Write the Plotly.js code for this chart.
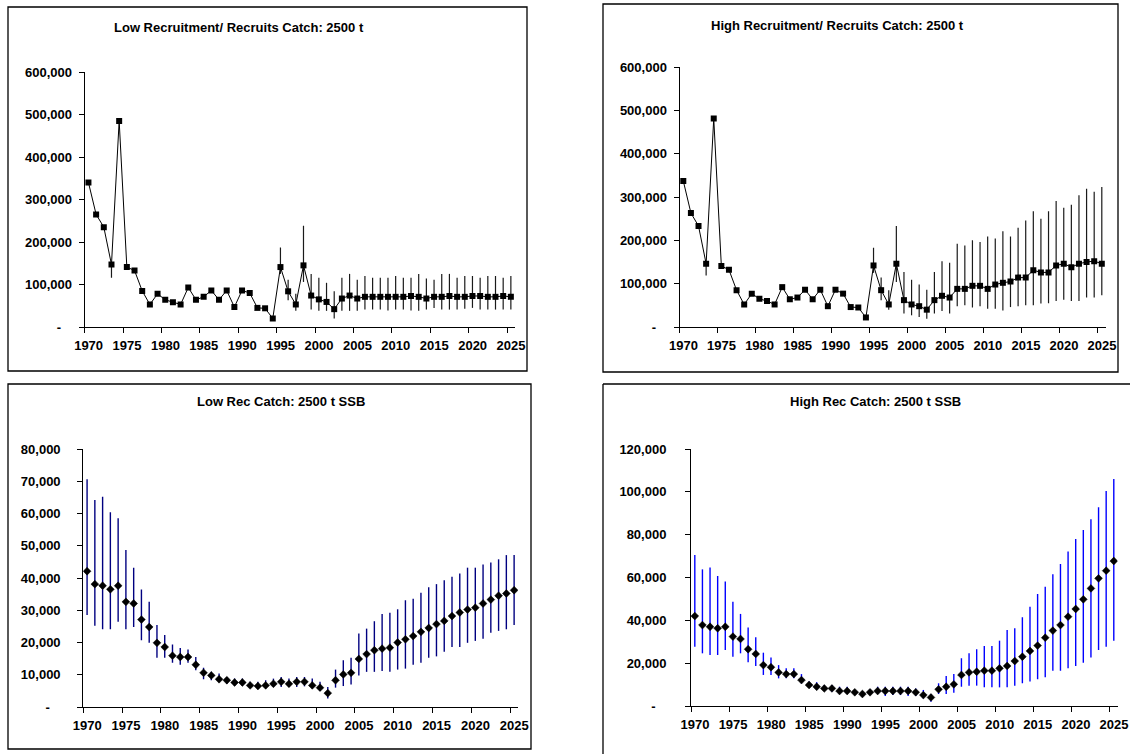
<!DOCTYPE html>
<html>
<head>
<meta charset="utf-8">
<script src="https://cdn.plot.ly/plotly-3.0.1.min.js"></script>
<style>html,body{margin:0;padding:0;background:#fff;}#chart{width:1130px;height:754px;}</style>
</head>
<body>
<div id="chart"></div>
<script>
// ---------------- DATA ----------------
const years = [1970,1971,1972,1973,1974,1975,1976,1977,1978,1979,1980,1981,1982,1983,1984,1985,1986,1987,1988,1989,1990,1991,1992,1993,1994,1995,1996,1997,1998,1999,2000,2001,2002,2003,2004,2005,2006,2007,2008,2009,2010,2011,2012,2013,2014,2015,2016,2017,2018,2019,2020,2021,2022,2023,2024,2025];

const xTickLabels = ['1970','1975','1980','1985','1990','1995','2000','2005','2010','2015','2020','2025'];

// Low recruitment - recruits
const recLow = [340000,265000,235000,147000,485000,141000,133000,85000,53000,78000,64000,58000,53000,93000,64000,71000,86000,64000,86000,47000,86000,80000,45000,44000,20000,
  141000,84000,53000,145000,74000,65000,59000,42000,67000,74000,67000,71000,71000,71000,71000,71000,71000,73000,71000,67000,71000,71000,73000,71000,71000,73000,73000,71000,71000,73000,71000];
const recLowHi = [null,null,null,147000,null,null,null,null,null,null,null,null,null,null,null,null,null,null,null,null,null,null,null,null,null,
  187000,111000,78000,238000,125000,116000,104000,84000,116000,125000,111000,120000,116000,116000,116000,120000,116000,116000,125000,114000,111000,125000,125000,116000,120000,120000,116000,120000,120000,116000,120000];
const recLowLo = [null,null,null,116000,null,null,null,null,null,null,null,null,null,null,null,null,null,null,null,null,null,null,null,null,null,
  125000,63000,38000,106000,41000,38000,38000,20000,38000,38000,38000,41000,41000,41000,39000,41000,41000,39000,38000,41000,45000,41000,41000,41000,43000,45000,41000,41000,41000,41000,41000];

// High recruitment - recruits
const recHigh = [337000,263000,233000,146000,481000,141000,132000,85000,52000,77000,65000,60000,52000,92000,64000,68000,86000,64000,86000,48000,86000,77000,46000,45000,22000,
  142000,85000,52000,146000,62000,52000,48000,40000,62000,72000,68000,88000,88000,95000,95000,88000,98000,102000,105000,114000,114000,131000,126000,126000,142000,146000,138000,146000,150000,152000,146000];
const recHighHi = [null,null,null,146000,null,null,null,null,null,null,null,null,null,null,null,null,null,null,null,null,null,null,null,null,null,
  183000,114000,85000,233000,127000,109000,98000,86000,127000,152000,148000,192000,188000,200000,196000,209000,204000,221000,209000,229000,246000,267000,250000,267000,291000,275000,282000,304000,319000,312000,323000];
const recHighLo = [null,null,null,119000,null,null,null,null,null,null,null,null,null,null,null,null,null,null,null,null,null,null,null,null,null,
  125000,62000,40000,104000,31000,27000,23000,19000,31000,37000,31000,48000,50000,45000,48000,42000,42000,38000,46000,48000,50000,50000,54000,55000,60000,63000,60000,60000,68000,68000,73000];

// Low rec SSB
const ssbLow = [42100,38100,37600,36500,37600,32600,32100,27100,24800,19900,18600,15900,15500,15500,13100,10600,9800,8600,8300,7600,7600,6700,6500,6700,7200,
  7800,7200,7800,7800,6700,6000,4300,8300,10100,10600,14900,16400,17600,18100,18400,20000,21000,22000,23300,24500,25700,26700,28200,29300,30200,30800,32100,33300,34500,35200,36200];
const ssbLowHi = [70600,64200,65200,60400,58500,48700,43200,36400,32600,25400,22300,19400,18300,17800,15500,12200,10900,10400,9300,8800,8800,7800,7800,8300,8800,
  9300,8800,9300,9300,8800,7800,6200,11600,14500,15300,22800,24300,26600,28800,29200,30300,33100,33600,35400,37100,38100,39300,40400,41400,43200,43200,44200,44800,45800,47100,47100];
const ssbLowLo = [28500,25200,24100,24100,26400,24100,24800,20700,19900,15300,15300,13700,13100,13700,11400,8600,8300,7800,7200,6500,6500,6200,5700,5700,6200,
  6200,6200,6200,6400,5700,5000,2600,6000,6500,7000,9800,10900,10900,11200,10900,11600,11900,13100,13700,15300,15700,17100,18600,18600,19900,20500,21200,23000,23600,24100,25400];

// High rec SSB
const ssbHigh = [42000,37800,37000,36300,37000,32400,31300,26500,24300,19100,18100,15700,14900,14900,12100,9800,9000,8200,8200,7000,7000,6400,5600,6400,7000,
  7000,7000,7000,7000,6400,5100,4000,7800,9000,10100,14500,15700,16000,16500,16500,17600,18700,21000,23000,25700,28200,31900,35200,37800,41700,45300,49800,54900,59600,63200,67700];
const ssbHighHi = [70500,63800,64700,60700,58100,48700,43000,36600,32100,24900,22600,19100,17600,17600,14900,11400,11100,9800,9800,9000,9000,7500,6700,7800,9000,
  9000,9000,9000,9000,8200,7500,5600,10600,14000,14900,22300,24600,26500,28000,28000,30500,35500,36300,41400,46400,52300,55700,61500,66300,72100,78000,82200,87200,92800,100400,106000];
const ssbHighLo = [27700,24600,23800,23800,26100,23000,24600,20400,18700,14500,14500,12900,12900,12900,10600,8700,7800,7200,6700,5600,5600,5100,4400,5100,5600,
  4700,5100,5100,4700,4700,3600,2000,5600,5600,6200,9000,9500,9500,8700,8700,8700,8700,9500,10600,11400,12500,13400,16500,16500,17600,18700,20200,22700,26100,27700,30500];

const yTickRec = [0,100000,200000,300000,400000,500000,600000];
const yTextRec = ['-\u00a0\u00a0\u00a0','100,000','200,000','300,000','400,000','500,000','600,000'];
const yTickSsbLow = [0,10000,20000,30000,40000,50000,60000,70000,80000];
const yTextSsbLow = ['-\u00a0\u00a0\u00a0','10,000','20,000','30,000','40,000','50,000','60,000','70,000','80,000'];
const yTickSsbHigh = [0,20000,40000,60000,80000,100000,120000];
const yTextSsbHigh = ['-\u00a0\u00a0\u00a0','20,000','40,000','60,000','80,000','100,000','120,000'];

const titles = ['Low Recruitment/ Recruits Catch: 2500 t','High Recruitment/ Recruits Catch: 2500 t','Low Rec Catch: 2500 t SSB','High Rec Catch: 2500 t SSB'];

// ---------------- BUILD ----------------
const W = 1130, H = 754;
const px = v => v / W;
const py = v => 1 - v / H;
const FONT = 'Arial, "Liberation Sans", sans-serif';

function errs(vals, hi, lo) {
  return {
    type: 'data', symmetric: false, visible: true,
    array: vals.map((v, i) => hi[i] == null ? NaN : hi[i] - v),
    arrayminus: vals.map((v, i) => lo[i] == null ? NaN : v - lo[i])
  };
}

const traces = [];
function recTrace(vals, hi, lo, xa, ya) {
  const e = errs(vals, hi, lo);
  e.width = 0; e.thickness = 1.2; e.color = '#1a1a1a';
  return {
    type: 'scatter', mode: 'lines+markers', x: years, y: vals, xaxis: xa, yaxis: ya,
    line: {color: '#000', width: 1},
    marker: {symbol: 'square', size: 6, color: '#000'},
    error_y: e, hoverinfo: 'x+y'
  };
}
function ssbTrace(vals, hi, lo, xa, ya, col) {
  const e = errs(vals, hi, lo);
  e.width = 0; e.thickness = 1.4; e.color = col;
  return {
    type: 'scatter', mode: 'markers', x: years, y: vals, xaxis: xa, yaxis: ya,
    marker: {symbol: 'diamond', size: 6, color: '#000', line: {color: '#000', width: 0.5}},
    error_y: e, hoverinfo: 'x+y'
  };
}
traces.push(recTrace(recLow, recLowHi, recLowLo, 'x', 'y'));
traces.push(recTrace(recHigh, recHighHi, recHighLo, 'x2', 'y2'));
traces.push(ssbTrace(ssbLow, ssbLowHi, ssbLowLo, 'x3', 'y3', '#000080'));
traces.push(ssbTrace(ssbHigh, ssbHighHi, ssbHighLo, 'x4', 'y4', '#0000ff'));

const tickFont = {family: FONT, size: 13, weight: 'bold', color: '#000'};

function xAxis(x0, x1, anchor) {
  return {
    domain: [px(x0), px(x1)], anchor: anchor,
    range: [1969.5, 2025.5], autorange: false,
    tickmode: 'array',
    tickvals: xTickLabels.map(l => Number(l) - 0.5),
    ticktext: xTickLabels,
    ticklabelshift: 4,
    ticks: 'outside', ticklen: 5, tickwidth: 1, tickcolor: '#000',
    ticklabelstandoff: 1,
    showline: true, linecolor: '#000', linewidth: 1,
    showgrid: false, zeroline: false, tickfont: tickFont, fixedrange: true
  };
}
function yAxis(y0, y1, anchor, tv, tt, standoff) {
  return {
    domain: [py(y0), py(y1)], anchor: anchor,
    range: [0, tv[tv.length - 1]], autorange: false,
    tickmode: 'array', tickvals: tv, ticktext: tt,
    ticks: 'outside', ticklen: 5, tickwidth: 1, tickcolor: '#000',
    ticklabelstandoff: standoff,
    showline: true, linecolor: '#000', linewidth: 1,
    showgrid: false, zeroline: false, tickfont: tickFont, fixedrange: true
  };
}

function frameRect(x0, y0, x1, y1) {
  return {type: 'rect', xref: 'paper', yref: 'paper', x0: px(x0), x1: px(x1), y0: py(y1), y1: py(y0),
    line: {color: '#000', width: 1.3}, fillcolor: 'rgba(0,0,0,0)', layer: 'below'};
}
function frameLine(x0, y0, x1, y1) {
  return {type: 'line', xref: 'paper', yref: 'paper', x0: px(x0), x1: px(x1), y0: py(y0), y1: py(y1),
    line: {color: '#000', width: 1.3}, layer: 'below'};
}

function title(text, cx, cy) {
  return {text: text, xref: 'paper', yref: 'paper', x: px(cx), y: py(cy), xanchor: 'center', yanchor: 'middle',
    showarrow: false, font: {family: FONT, size: 13, weight: 'bold', color: '#000'}};
}

const layout = {
  width: W, height: H,
  margin: {l: 0, r: 0, t: 0, b: 0},
  paper_bgcolor: '#fff', plot_bgcolor: 'rgba(0,0,0,0)',
  showlegend: false,
  xaxis: xAxis(84.6, 514.7, 'y'),
  yaxis: yAxis(327, 72, 'x', yTickRec, yTextRec, 4),
  xaxis2: xAxis(679.5, 1105.6, 'y2'),
  yaxis2: yAxis(327, 67, 'x2', yTickRec, yTextRec, 4),
  xaxis3: xAxis(83.2, 518, 'y3'),
  yaxis3: yAxis(707, 449, 'x3', yTickSsbLow, yTextSsbLow, 14),
  xaxis4: xAxis(691, 1117.6, 'y4'),
  yaxis4: yAxis(706, 449, 'x4', yTickSsbHigh, yTextSsbHigh, 16),
  shapes: [
    frameRect(8, 7, 527, 371),
    frameRect(603, 4, 1118, 372),
    frameRect(8, 384, 531, 749),
    frameLine(603, 384, 1130, 384),
    frameLine(603, 384, 603, 754)
  ],
  annotations: [
    title(titles[0], 239, 27),
    title(titles[1], 837, 26),
    title(titles[2], 281, 401),
    title(titles[3], 875, 401)
  ]
};

Plotly.newPlot('chart', traces, layout, {displayModeBar: false, staticPlot: true});
</script>
</body>
</html>
